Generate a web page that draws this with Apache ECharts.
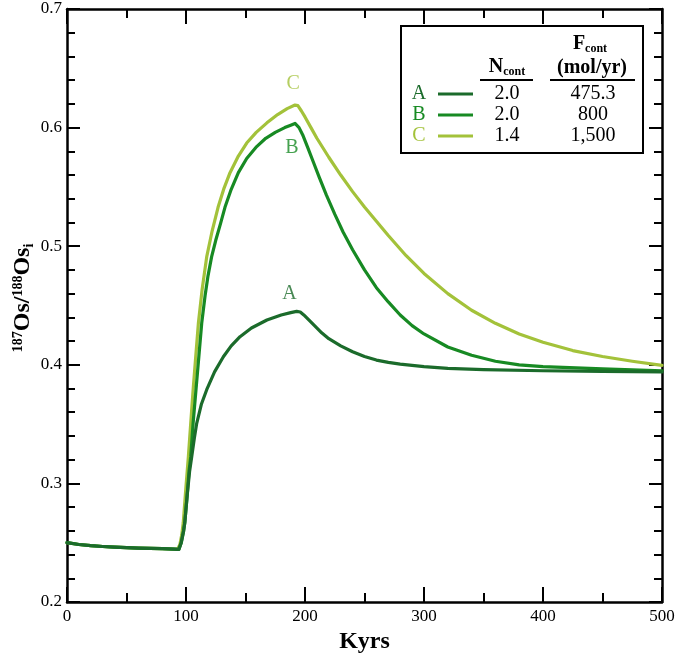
<!DOCTYPE html>
<html><head><meta charset="utf-8">
<script src="https://cdn.jsdelivr.net/npm/echarts@6/dist/echarts.min.js"></script>
<style>html,body{margin:0;padding:0;background:#fff}#c{width:675px;height:654px}</style>
</head><body><div id="c"></div>
<script>
// Data (kyrs, 187Os/188Os_i)
const xA = [0,10,20,30,40,50,60,70,80,90,94,96,98,99,101,103,104.8,107,109,113,117.4,124,131.4,138,145.4,155,168,180,188,193,196,199,203,208,214,220,230,240,250,260,270,280,300,320,350,400,450,500];
const yA = [0.250,0.2485,0.2475,0.2468,0.2462,0.2458,0.2455,0.2452,0.2450,0.2446,0.2443,0.250,0.260,0.267,0.290,0.310,0.3225,0.338,0.3507,0.367,0.379,0.394,0.4068,0.416,0.4237,0.431,0.4378,0.442,0.444,0.445,0.4445,0.442,0.438,0.433,0.427,0.422,0.416,0.411,0.407,0.404,0.402,0.4005,0.3985,0.397,0.396,0.395,0.3945,0.394];
const xB = [0,10,20,30,40,50,60,70,80,90,94,96,98,99,101,102.5,104,106,108.4,110.8,113.2,116,118.5,121.5,125,129,132.8,138,144,151,159.4,167,175,183,188,191.6,195,198,202,207,212,218,225,232,240,250,260,270,280,290,300,320,340,360,380,400,450,500];
const yB = [0.250,0.2485,0.2475,0.2468,0.2462,0.2458,0.2455,0.2452,0.2450,0.2446,0.2443,0.250,0.260,0.267,0.290,0.310,0.3225,0.351,0.379,0.407,0.435,0.458,0.475,0.491,0.505,0.519,0.533,0.548,0.562,0.574,0.584,0.591,0.596,0.600,0.602,0.6035,0.600,0.594,0.584,0.571,0.558,0.543,0.527,0.512,0.497,0.480,0.465,0.453,0.442,0.433,0.426,0.415,0.408,0.403,0.400,0.3985,0.3965,0.395];
const xC = [0,10,20,30,40,50,60,70,80,90,93,95,96.5,97.7,99.8,102,104,106,108.2,110.4,113.5,117.4,122,127,132,137,144,151,159,168,177,185,191.6,194,197,200,205,210,220,230,240,250,260,270,285,300,320,340,360,380,400,425,450,475,500];
const yC = [0.250,0.2485,0.2475,0.2468,0.2462,0.2458,0.2455,0.2452,0.2450,0.2446,0.2444,0.249,0.257,0.267,0.295,0.3225,0.351,0.379,0.407,0.435,0.463,0.491,0.513,0.533,0.549,0.562,0.576,0.587,0.596,0.604,0.611,0.616,0.619,0.6185,0.614,0.609,0.600,0.591,0.575,0.560,0.546,0.533,0.521,0.509,0.492,0.477,0.460,0.446,0.435,0.426,0.419,0.412,0.407,0.403,0.3995];
const seriesNames = ['A','B','C'];
const colors = ['#1b6b2b','#178a23','#a3c23a'];
const labelPos = [[187,0.460],[189,0.583],[190,0.637]];
const nCont = ['2.0','2.0','1.4'];
const fCont = ['475.3','800','1,500'];

const FONT = 'Liberation Serif';
const pair = (xs, ys) => xs.map((x,i)=>[x, ys[i]]);
const data = [pair(xA,yA), pair(xB,yB), pair(xC,yC)];

const chart = echarts.init(document.getElementById('c'), null, {renderer:'canvas'});
const axisCommon = {
  axisLine:{show:true, onZero:false, lineStyle:{color:'#000', width:2.5}},
  splitLine:{show:false}
};
const series = data.map((d,i)=>({
  type:'line', name:seriesNames[i], data:d, showSymbol:false, symbol:'none',
  smooth:false,
  lineStyle:{color:colors[i], width:3.2, join:'round', cap:'round'}, z:5-i
}));
series.push({
  type:'scatter', symbolSize:0, silent:true,
  data: labelPos.map((p,i)=>({value:p, label:{show:true, position:'inside', formatter:seriesNames[i], color:colors[i], fontFamily:FONT, fontSize:20}})),
  z:10
});

// legend table graphics
const g = [];
g.push({type:'rect', shape:{x:401,y:26,width:242,height:127}, style:{fill:'#fff', stroke:'#000', lineWidth:2}, z:100});
const hdrRich = {b:{fontFamily:FONT,fontWeight:'bold',fontSize:20,fill:'#000'}, s:{fontFamily:FONT,fontWeight:'bold',fontSize:12,fill:'#000',padding:[10,0,0,0]}};
g.push({type:'text', x:507, y:67, style:{text:'{b|N}{s|cont}', align:'center', verticalAlign:'middle', rich:hdrRich}, z:101});
g.push({type:'text', x:590, y:44, style:{text:'{b|F}{s|cont}', align:'center', verticalAlign:'middle', rich:hdrRich}, z:101});
g.push({type:'text', x:592, y:68, style:{text:'(mol/yr)', align:'center', verticalAlign:'middle', fontFamily:FONT, fontWeight:'bold', fontSize:20, fill:'#000'}, z:101});
g.push({type:'line', shape:{x1:480,y1:80,x2:533,y2:80}, style:{stroke:'#000', lineWidth:2}, z:101});
g.push({type:'line', shape:{x1:550,y1:80,x2:635,y2:80}, style:{stroke:'#000', lineWidth:2}, z:101});
const rowY = [94,115,136];
rowY.forEach((y,i)=>{
  g.push({type:'text', x:419, y:y, style:{text:seriesNames[i], align:'center', verticalAlign:'middle', fontFamily:FONT, fontSize:20, fill:colors[i]}, z:101});
  g.push({type:'line', shape:{x1:438,y1:y,x2:473,y2:y}, style:{stroke:colors[i], lineWidth:3.2}, z:101});
  g.push({type:'text', x:507, y:y, style:{text:nCont[i], align:'center', verticalAlign:'middle', fontFamily:FONT, fontSize:20, fill:'#000'}, z:101});
  g.push({type:'text', x:593, y:y, style:{text:fCont[i], align:'center', verticalAlign:'middle', fontFamily:FONT, fontSize:20, fill:'#000'}, z:101});
});
// y-axis title
g.push({type:'text', x:23, y:298, rotation:Math.PI/2, style:{
  text:'{sup|187}{b|Os/}{sup|188}{b|Os}{sub|i}', align:'center', verticalAlign:'middle',
  rich:{
    b:{fontFamily:FONT, fontWeight:'bold', fontSize:24, fill:'#000'},
    sup:{fontFamily:FONT, fontWeight:'bold', fontSize:14, fill:'#000', padding:[0,0,10,0]},
    sub:{fontFamily:FONT, fontWeight:'bold', fontSize:14, fill:'#000', padding:[12,0,0,0]}
  }}, z:101});

chart.setOption({
  animation:false,
  backgroundColor:'#fff',
  grid:{left:67, right:13, top:9, bottom:52, containLabel:false, outerBoundsMode:'none'},
  xAxis:[
    Object.assign({type:'value', min:0, max:500, interval:100, position:'bottom',
      name:'Kyrs', nameLocation:'middle', nameGap:26,
      nameTextStyle:{fontFamily:FONT, fontWeight:'bold', fontSize:24, color:'#000'},
      axisTick:{show:true, inside:true, length:15, lineStyle:{color:'#000', width:2}},
      minorTick:{show:true, splitNumber:2, length:9, lineStyle:{color:'#000', width:2}},
      axisLabel:{fontFamily:FONT, fontSize:17, color:'#000', margin:6}
    }, axisCommon),
    Object.assign({type:'value', min:0, max:500, interval:100, position:'top',
      axisTick:{show:true, inside:true, length:15, lineStyle:{color:'#000', width:2}},
      minorTick:{show:true, splitNumber:2, length:9, lineStyle:{color:'#000', width:2}},
      axisLabel:{show:false}
    }, axisCommon)
  ],
  yAxis:[
    Object.assign({type:'value', min:0.2, max:0.7, interval:0.1, position:'left',
      axisTick:{show:true, inside:true, length:13, lineStyle:{color:'#000', width:2}},
      minorTick:{show:true, splitNumber:5, length:8, lineStyle:{color:'#000', width:2}},
      axisLabel:{fontFamily:FONT, fontSize:17, color:'#000', margin:5, formatter:v=>v.toFixed(1)}
    }, axisCommon),
    Object.assign({type:'value', min:0.2, max:0.7, interval:0.1, position:'right',
      axisTick:{show:true, inside:true, length:13, lineStyle:{color:'#000', width:2}},
      minorTick:{show:true, splitNumber:5, length:8, lineStyle:{color:'#000', width:2}},
      axisLabel:{show:false}
    }, axisCommon)
  ],
  series: series,
  graphic: g
});
</script>
</body></html>
